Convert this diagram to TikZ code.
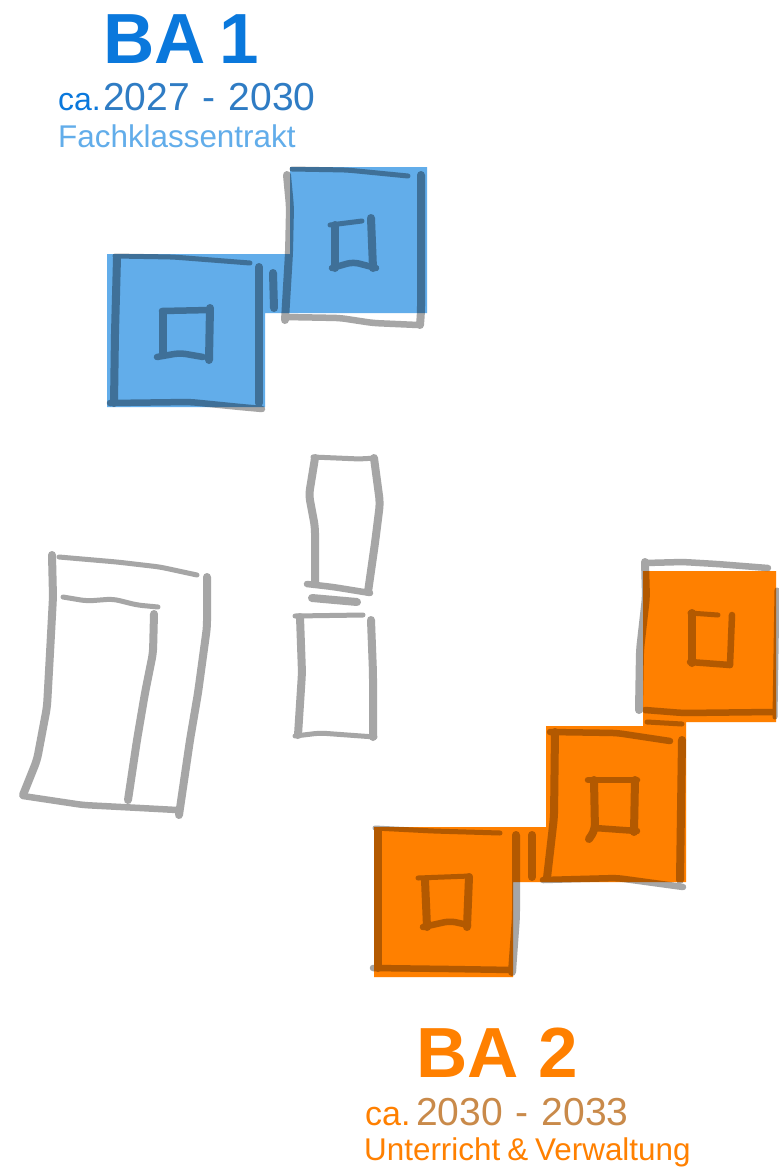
\documentclass[tikz,border=0pt]{standalone}
\usepackage{fontspec}
\setmainfont{Liberation Sans}
\usetikzlibrary{positioning}

\definecolor{bablau}{HTML}{62ADEA}
\definecolor{baorange}{HTML}{FF8000}
\definecolor{skizze}{HTML}{A6A6A6}
\definecolor{kopfblau}{HTML}{0A78DC}
\definecolor{jahrblau}{HTML}{2F7CC4}
\definecolor{jahrorange}{HTML}{C98A4A}

\begin{document}
\begin{tikzpicture}[
  x=1pt, y=-1pt,
  sketch/.style={draw=skizze, line width=6.5pt, line cap=round, line join=round, rounded corners=6pt},
  heavy/.style={sketch, line width=8pt},
  thin/.style={sketch, line width=5pt},
  phase/.style={blend mode=multiply},
  txt/.style={anchor=base west, inner sep=0pt},
  head/.style={txt, font=\fontsize{71}{71}\selectfont\bfseries\spaceskip #1pt\relax},
  yearsize/.style={txt, font=\fontsize{39}{39}\selectfont\spaceskip 13pt\relax},
  casize/.style={txt, font=\fontsize{#1}{#1}\selectfont},
  sub/.style={txt, font=\fontsize{31.4}{31.4}\selectfont\spaceskip 7pt\relax}
]
\useasboundingbox (0,0) rectangle (779,1171);
\fill[white] (0,0) rectangle (779,1171);

% bestand links
\draw[heavy] (52,555) -- (53,597) -- (50,653) -- (47,707) -- (37,760) -- (23,795);
\draw[thin] (59,557) -- (117,562) -- (160,567) -- (197,575);
\draw[sketch] (23,796) -- (83,805) -- (140,808) -- (177,810);
\draw[heavy] (207,577) -- (207,627) -- (198,693) -- (190,740) -- (179,815);
\draw[thin] (63,597) -- (87,601) -- (113,599) -- (137,605) -- (158,607);
\draw[heavy] (154,614) -- (153,653) -- (145,693) -- (137,740) -- (128,800);

% bestand mitte
\draw[thin] (313,457) -- (360,459) -- (375,458);
\draw[heavy] (315,458) -- (309,495) -- (315,527) -- (315,583);
\draw[sketch] (307,584) -- (333,587) -- (370,593);
\draw[heavy] (374,458) -- (380,503) -- (375,543) -- (368,592);
\draw[heavy] (312,598) -- (357,602);
\draw[thin] (295,616) -- (363,615);
\draw[heavy] (300,617) -- (302,673) -- (298,735);
\draw[thin] (295,736) -- (320,733) -- (375,737);
\draw[heavy] (371,620) -- (373,673) -- (373,737);

% BA 1 skizze
\draw[heavy] (117,258) -- (115,333) -- (114,403);
\draw[thin] (115,256) -- (173,257) -- (250,263);
\draw[heavy] (259,267) -- (259,403);
\draw[sketch] (110,403) -- (190,402) -- (240,407) -- (262,409);
\draw[sketch] (162,311) -- (210,310);
\draw[heavy] (163,312) -- (163,355);
\draw[heavy] (210,308) -- (209,360);
\draw[sketch] (157,357) -- (180,353) -- (203,357);
\draw[heavy] (273,273) -- (274,308);
\draw[thin] (292,169) -- (347,170) -- (408,176);
\draw[heavy] (287,175) -- (290,207) -- (289,253) -- (285,320);
\draw[heavy] (421,175) -- (421,312) -- (420,325);
\draw[sketch] (285,317) -- (340,318) -- (373,323) -- (418,325);
\draw[thin] (330,225) -- (362,221);
\draw[heavy] (335,225) -- (335,268);
\draw[heavy] (371,218) -- (373,268);
\draw[sketch] (332,268) -- (353,262) -- (376,268);

% BA 2 skizze
\draw[sketch] (645,563) -- (683,562) -- (717,564) -- (768,568);
\draw[heavy] (645,562) -- (646,597) -- (640,650) -- (639,710);
\draw[thin] (777,590) -- (775,717);
\draw[sketch] (645,710) -- (683,713) -- (773,712);
\draw[thin] (690,613) -- (718,615);
\draw[heavy] (692,613) -- (692,663);
\draw[sketch] (732,615) -- (730,665);
\draw[sketch] (690,662) -- (730,665);
\draw[thin] (647,722) -- (682,724);
\draw[sketch] (550,732) -- (617,733) -- (670,741);
\draw[heavy] (555,732) -- (554,817) -- (547,878);
\draw[heavy] (682,740) -- (680,880);
\draw[sketch] (543,880) -- (617,878) -- (683,887);
\draw[sketch] (588,780) -- (637,780);
\draw[heavy] (594,780) -- (595,830) -- (589,839);
\draw[heavy] (635,780) -- (634,832);
\draw[sketch] (595,828) -- (637,831);
\draw[heavy] (532,835) -- (532,877);
\draw[thin] (375,828) -- (433,831) -- (500,833);
\draw[heavy] (378,830) -- (378,968);
\draw[heavy] (516,835) -- (516,917) -- (512,972);
\draw[sketch] (373,968) -- (450,969) -- (513,970);
\draw[thin] (418,878) -- (470,876);
\draw[heavy] (425,880) -- (427,927);
\draw[heavy] (469,877) -- (467,927);
\draw[sketch] (423,927) -- (450,921) -- (468,925);

% flaechen
\fill[bablau, phase] (107,254) -- (290,254) -- (290,167) -- (427,167) -- (427,313) -- (265,313) -- (265,407) -- (107,407) -- cycle;
\fill[baorange, phase, postaction={fill=baorange, blend mode=normal, fill opacity=.15}] (374,827) -- (546,827) -- (546,726) -- (643,726) -- (643,571) -- (776,571) -- (776,722) -- (686,722) -- (686,882) -- (513,882) -- (513,977) -- (374,977) -- cycle;

% texte
\node[head=14, text=kopfblau] (ba1) at (103,63) {BA 1};
\node[casize=32, text=kopfblau] (ca1) at (58,110) {ca.};
\node[yearsize, text=jahrblau] (jahre1) at (103,110) {2027 - 2030};
\node[sub, text=bablau] (name1) at (58,147) {Fachklassentrakt};
\node[head=20, text=baorange] (ba2) at (416,1077) {BA 2};
\node[casize=34, text=baorange] (ca2) at (365,1125) {ca.};
\node[yearsize, text=jahrorange] (jahre2) at (416,1125) {2030 - 2033};
\node[sub, text=baorange] (name2) at (364,1160) {Unterricht \& Verwaltung};
\end{tikzpicture}
\end{document}
